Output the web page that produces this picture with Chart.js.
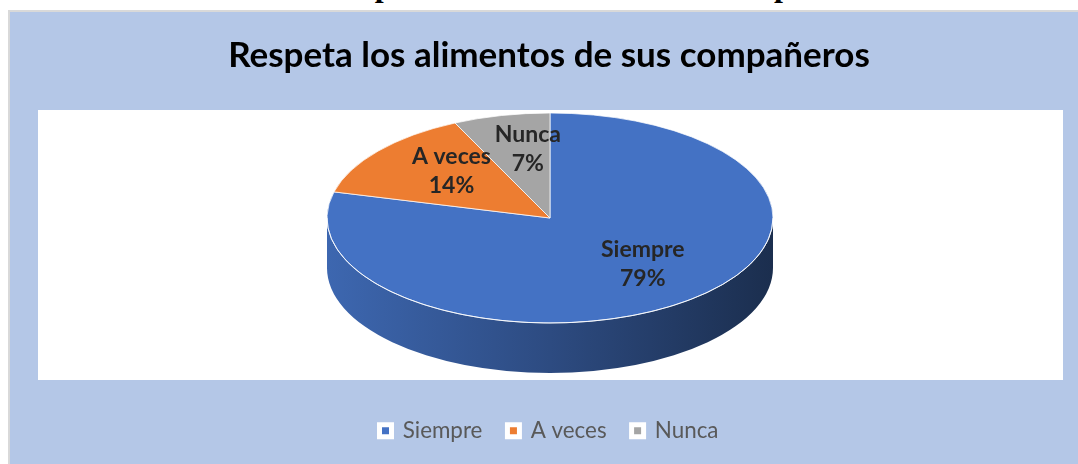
<!DOCTYPE html>
<html>
<head>
<meta charset="utf-8">
<script src="https://cdn.jsdelivr.net/npm/chart.js@4.4.1/dist/chart.umd.min.js"></script>
<style>
  html, body { margin: 0; padding: 0; background: #fff; }
  body { width: 1078px; height: 464px; position: relative; overflow: hidden; }
  #caption {
    position: absolute; left: 325px; top: -31px; white-space: nowrap;
    font: bold 32px/32px "Liberation Serif", "Times New Roman", serif; color: #000;
  }
  #frame {
    position: absolute; left: 8px; top: 10px; width: 1090px; height: 480px;
    background: #b4c7e7; border: 2px solid #d9d9d9; box-sizing: border-box;
  }
  #wrap { position: absolute; left: 0; top: 0; width: 1078px; height: 464px; }
</style>
</head>
<body>
<div id="caption">Respeta los alimentos de sus compañeros</div>
<div id="frame"></div>
<div id="wrap"><canvas id="pieChart"></canvas></div>
<script>
const TITLE = "Respeta los alimentos de sus compañeros";
const CATEGORIES = ["Siempre", "A veces", "Nunca"];
const PERCENTS = [79, 14, 7];
const COLORS = ["#4472C4", "#ED7D31", "#A5A5A5"];

// where the tilted pie and the white plot box sit on the page
const PIE = { cx: 550, cy: 218, r: 223, ry: 105, depth: 50 };
const PLOT = { left: 38, top: 110, right: 1063, bottom: 380 };

function shade(hex, f) {
  const n = parseInt(hex.slice(1), 16);
  const r = Math.round(((n >> 16) & 255) * f);
  const g = Math.round(((n >> 8) & 255) * f);
  const b = Math.round((n & 255) * f);
  return `rgb(${r},${g},${b})`;
}

const pie3d = {
  id: "pie3d",
  beforeDraw(chart) {
    const ctx = chart.ctx;
    ctx.save();
    ctx.fillStyle = "#fff";
    ctx.fillRect(PLOT.left, PLOT.top, PLOT.right - PLOT.left, PLOT.bottom - PLOT.top);
    ctx.restore();
  },
  beforeDatasetsDraw(chart) {
    const ctx = chart.ctx;
    const arcs = chart.getDatasetMeta(0).data;
    const r = arcs[0].outerRadius;
    const ry = PIE.ry;

    // side walls, only the front half (angles 0..PI) is visible
    arcs.forEach((arc, i) => {
      [[-2 * Math.PI, -Math.PI], [0, Math.PI], [2 * Math.PI, 3 * Math.PI]].forEach(([lo, hi]) => {
        const a = Math.max(arc.startAngle, lo), b = Math.min(arc.endAngle, hi);
        if (b <= a) return;
        const g = ctx.createLinearGradient(PIE.cx - r, 0, PIE.cx + r, 0);
        g.addColorStop(0, shade(COLORS[i], 0.9));
        g.addColorStop(0.5, shade(COLORS[i], 0.66));
        g.addColorStop(1, shade(COLORS[i], 0.4));
        ctx.beginPath();
        ctx.ellipse(PIE.cx, PIE.cy, r, ry, 0, a, b);
        ctx.ellipse(PIE.cx, PIE.cy + PIE.depth, r, ry, 0, b, a, true);
        ctx.closePath();
        ctx.fillStyle = g;
        ctx.fill();
      });
    });

    // squash the library's round pie into the top face
    ctx.save();
    ctx.translate(PIE.cx, PIE.cy);
    ctx.scale(1, ry / r);
    ctx.translate(-arcs[0].x, -arcs[0].y);
  },
  afterDatasetsDraw(chart) {
    const ctx = chart.ctx;
    ctx.restore();
    const arcs = chart.getDatasetMeta(0).data;
    const r = arcs[0].outerRadius;
    const tilt = PIE.ry / r;

    ctx.save();
    ctx.beginPath();
    ctx.ellipse(PIE.cx, PIE.cy, r, PIE.ry, 0, 0, Math.PI);
    ctx.strokeStyle = "rgba(255,255,255,0.8)";
    ctx.lineWidth = 1;
    ctx.stroke();

    ctx.font = "bold 23px Lato";
    ctx.fillStyle = "#262626";
    ctx.textAlign = "center";
    ctx.textBaseline = "middle";
    arcs.forEach((arc, i) => {
      const mid = (arc.startAngle + arc.endAngle) / 2;
      const rr = arc.outerRadius * 0.62;
      // small nudge for the viewing angle of the tilted pie
      const x = PIE.cx + Math.cos(mid) * rr + 8;
      const y = PIE.cy + Math.sin(mid) * rr * tilt - 5;
      ctx.fillText(CATEGORIES[i], x, y - 14.5);
      ctx.fillText(PERCENTS[i] + "%", x, y + 14.5);
    });
    ctx.restore();
  }
};

Chart.defaults.font.family = "Lato";

new Chart(document.getElementById("pieChart"), {
  type: "pie",
  data: {
    labels: CATEGORIES,
    datasets: [{
      data: PERCENTS,
      backgroundColor: COLORS,
      borderColor: "#ffffff",
      borderWidth: 1,
      radius: PIE.r,
      clip: false
    }]
  },
  options: {
    responsive: true,
    maintainAspectRatio: false,
    animation: false,
    layout: { padding: { top: 0, bottom: 12, left: 20, right: 0 } },
    plugins: {
      tooltip: { enabled: false },
      title: {
        display: true,
        text: TITLE,
        color: "#000",
        font: { size: 35, weight: "bold" },
        padding: { top: 35, bottom: 10 }
      },
      legend: {
        position: "bottom",
        labels: {
          color: "#595959",
          font: { size: 22.4 },
          boxWidth: 12,
          boxHeight: 12,
          padding: 25,
          generateLabels(chart) {
            const items = Chart.DoughnutController.overrides.plugins.legend.labels.generateLabels(chart);
            items.forEach(it => { it.strokeStyle = "#ffffff"; it.lineWidth = 5; });
            return items;
          }
        }
      }
    }
  },
  plugins: [pie3d]
});
</script>
</body>
</html>
